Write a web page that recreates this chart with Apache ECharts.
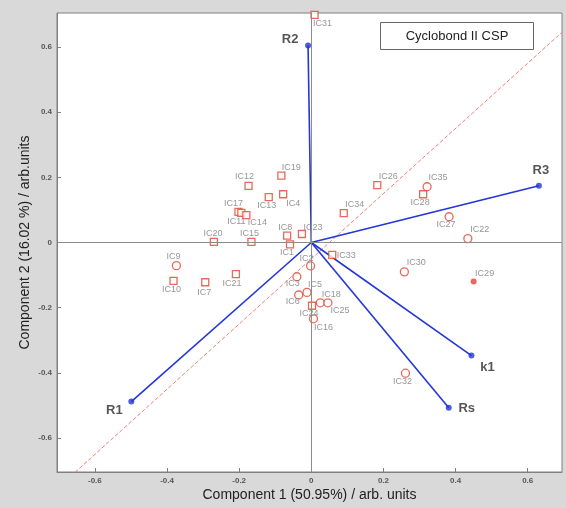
<!DOCTYPE html>
<html>
<head>
<meta charset="utf-8">
<script src="https://cdn.jsdelivr.net/npm/echarts@6/dist/echarts.min.js"></script>
<style>
html,body{margin:0;padding:0;background:#d9d9d9;}
#chart{width:566px;height:508px;}
</style>
</head>
<body>
<div id="chart"></div>
<script>
// Compound scores (IC1..IC35) on the first two principal components
const squareNames = ['IC19','IC12','IC13','IC4','IC17','IC11','IC14','IC20','IC15','IC8','IC23','IC1','IC34','IC33','IC10','IC7','IC21','IC24','IC26','IC28','IC31'];
const squareX = [-0.083,-0.174,-0.118,-0.078,-0.202,-0.194,-0.180,-0.270,-0.166,-0.067,-0.026,-0.059,0.090,0.058,-0.382,-0.294,-0.209,0.002,0.183,0.310,0.009];
const squareY = [0.205,0.174,0.139,0.148,0.094,0.091,0.084,0.002,0.002,0.021,0.026,-0.006,0.090,-0.038,-0.118,-0.122,-0.097,-0.194,0.176,0.148,0.698];

const circleNames = ['IC2','IC9','IC3','IC5','IC6','IC18','IC25','IC16','IC35','IC27','IC22','IC30','IC32'];
const circleX = [-0.002,-0.374,-0.040,-0.012,-0.035,0.025,0.046,0.006,0.321,0.382,0.434,0.258,0.261];
const circleY = [-0.072,-0.071,-0.105,-0.153,-0.161,-0.185,-0.185,-0.234,0.171,0.079,0.012,-0.090,-0.401];

const filledNames = ['IC29'];
const filledX = [0.450];
const filledY = [-0.120];

// Loadings of the response variables
const loadingNames = ['R2','R3','k1','Rs','R1'];
const loadingX = [-0.009,0.631,0.444,0.381,-0.499];
const loadingY = [0.604,0.174,-0.347,-0.507,-0.488];

// Reference diagonal
const diagX = [-0.655,0.695];
const diagY = [-0.705,0.645];

const xTicks = [-0.6,-0.4,-0.2,0,0.2,0.4,0.6];
const yTicks = [-0.6,-0.4,-0.2,0,0.2,0.4,0.6];

// Label offsets (label centre relative to marker centre, px)
const labelOffset = {
  IC19:[10,-8], IC12:[-4,-9], IC13:[-2,8], IC4:[10,9], IC17:[-5,-8], IC11:[-5,9], IC14:[11,7],
  IC20:[-1,-8], IC15:[-2,-8], IC8:[-2,-8], IC23:[11,-7], IC1:[-3,8], IC34:[11,-9], IC33:[14,1],
  IC2:[-4,-7], IC9:[-3,-9], IC10:[-2,9], IC7:[-1,10], IC21:[-4,9], IC3:[-4,7], IC5:[8,-8],
  IC6:[-6,7], IC24:[-3,8], IC18:[11,-8], IC25:[12,8], IC16:[10,9], IC26:[11,-9], IC35:[11,-9],
  IC28:[-3,8], IC27:[-3,8], IC22:[12,-9], IC30:[12,-9], IC29:[11,-8], IC32:[-3,8], IC31:[8,9],
  R2:[-18,-6], R3:[2,-15], k1:[16,12], Rs:[18,1], R1:[-17,9]
};

const FONT = "'Liberation Sans', Arial, sans-serif";
const RED = '#e2432f';
const BLUE = '#2336d6';

function points(names, xs, ys, fontSize, color, weight) {
  return names.map((n, i) => ({
    name: n,
    value: [xs[i], ys[i]],
    label: {
      show: true, formatter: n, position: 'inside', offset: labelOffset[n] || [0,0],
      fontSize: fontSize, color: color, fontFamily: FONT, fontWeight: weight || 'normal'
    }
  }));
}

const series = [];

// zero lines
series.push({
  type: 'line', data: [], silent: true,
  markLine: {
    silent: true, symbol: 'none', label: {show: false},
    lineStyle: {color: '#8c8c8c', width: 1, type: 'solid'},
    data: [{yAxis: 0}, {xAxis: 0}]
  }
});

// diagonal
series.push({
  type: 'line', data: diagX.map((x, i) => [x, diagY[i]]),
  showSymbol: false, silent: true,
  lineStyle: {color: '#ec8078', width: 1, type: [4, 2]}, z: 1
});

// loading vectors
loadingNames.forEach((n, i) => {
  series.push({
    type: 'line', data: [[0, 0], [loadingX[i], loadingY[i]]],
    showSymbol: false, silent: true,
    lineStyle: {color: BLUE, width: 1.6}, z: 2
  });
});
series.push({
  type: 'scatter', symbol: 'circle', symbolSize: 6,
  itemStyle: {color: BLUE},
  data: points(loadingNames, loadingX, loadingY, 13, '#2a2a2a', 'bold'), z: 5
});

series.push({
  type: 'scatter', symbol: 'rect', symbolSize: 7,
  itemStyle: {color: '#fff', borderColor: RED, borderWidth: 1.3},
  data: points(squareNames, squareX, squareY, 9, '#7a7a7a'), z: 4
});
series.push({
  type: 'scatter', symbol: 'circle', symbolSize: 8,
  itemStyle: {color: '#fff', borderColor: RED, borderWidth: 1.3},
  data: points(circleNames, circleX, circleY, 9, '#7a7a7a'), z: 4
});
series.push({
  type: 'scatter', symbol: 'circle', symbolSize: 6,
  itemStyle: {color: RED},
  data: points(filledNames, filledX, filledY, 9, '#7a7a7a'), z: 4
});

const tickFmt = v => (Math.abs(v) < 1e-9 ? '0' : String(Math.round(v * 10) / 10));

const chart = echarts.init(document.getElementById('chart'), null, {renderer: 'canvas'});
chart.setOption({
  backgroundColor: '#d9d9d9',
  animation: false,
  textStyle: {fontFamily: FONT},
  grid: {left: 57, right: 4, top: 13, bottom: 36, show: true, backgroundColor: '#fff', borderColor: '#808080', borderWidth: 1},
  xAxis: {
    type: 'value', min: -0.705, max: 0.695,
    name: 'Component 1 (50.95%) / arb. units', nameLocation: 'middle', nameGap: 16,
    nameMoveOverlap: false,
    nameTextStyle: {fontSize: 14, color: '#222', fontFamily: FONT},
    axisLine: {show: true, onZero: false, lineStyle: {color: '#808080'}},
    axisTick: {show: true, inside: true, length: 4, customValues: xTicks, lineStyle: {color: '#808080'}},
    axisLabel: {customValues: xTicks, formatter: tickFmt, fontSize: 8, fontWeight: 'bold', color: '#555', margin: 5, fontFamily: FONT},
    splitLine: {show: false}
  },
  yAxis: {
    type: 'value', min: -0.704, max: 0.704,
    name: 'Component 2 (16.02 %) / arb.units', nameLocation: 'middle', nameGap: 25,
    nameMoveOverlap: false,
    nameTextStyle: {fontSize: 14, color: '#222', fontFamily: FONT},
    axisLine: {show: true, onZero: false, lineStyle: {color: '#808080'}},
    axisTick: {show: true, inside: true, length: 4, customValues: yTicks, lineStyle: {color: '#808080'}},
    axisLabel: {customValues: yTicks, formatter: tickFmt, fontSize: 8, fontWeight: 'bold', color: '#555', margin: 5, fontFamily: FONT},
    splitLine: {show: false}
  },
  graphic: [{
    type: 'group', left: 380, top: 22,
    children: [
      {type: 'rect', shape: {x: 0, y: 0, width: 153, height: 27}, style: {fill: '#fff', stroke: '#666', lineWidth: 1}},
      {type: 'text', x: 76.5, y: 13.5, style: {text: 'Cyclobond II CSP', fontSize: 13, fill: '#222', fontFamily: FONT, align: 'center', verticalAlign: 'middle'}}
    ]
  }],
  series: series
});
</script>
</body>
</html>
